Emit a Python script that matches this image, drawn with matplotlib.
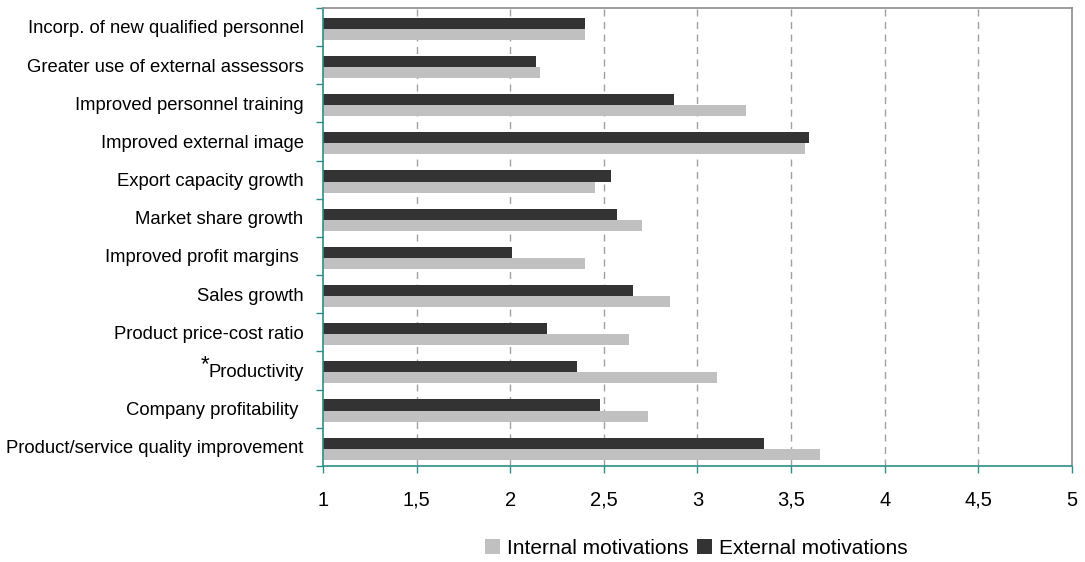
import matplotlib
matplotlib.use("Agg")
import matplotlib.pyplot as plt
from matplotlib.patches import Patch
from matplotlib.transforms import offset_copy
import numpy as np

plt.rcParams['font.family'] = ['Liberation Sans', 'DejaVu Sans']

categories = [
    "Incorp. of new qualified personnel",
    "Greater use of external assessors",
    "Improved personnel training",
    "Improved external image",
    "Export capacity growth",
    "Market share growth",
    "Improved profit margins ",
    "Sales growth",
    "Product price-cost ratio",
    "Productivity",
    "Company profitability ",
    "Product/service quality improvement",
]
external = [2.40, 2.14, 2.875, 3.595, 2.54, 2.57, 2.01, 2.655, 2.195, 2.355, 2.48, 3.355]
internal = [2.40, 2.16, 3.26, 3.575, 2.45, 2.705, 2.40, 2.855, 2.635, 3.105, 2.735, 3.655]
xticks = [1, 1.5, 2, 2.5, 3, 3.5, 4, 4.5, 5]
xtick_labels = ["1", "1,5", "2", "2,5", "3", "3,5", "4", "4,5", "5"]

dark = "#333333"
light = "#C0C0C0"
teal = "#2E8E88"
gray = "#8C8C8C"

fig = plt.figure(figsize=(10.85, 5.62), dpi=100)
ax = fig.add_axes([0.2977, 0.171, 0.6903, 0.815])

n = len(categories)
y = np.arange(n)
h = 0.29
shift = 0.05
ax.barh(y + shift - h / 2, external, height=h, left=0, color=dark, zorder=2)
ax.barh(y + shift + h / 2, internal, height=h, left=0, color=light, zorder=2)

ax.set_xlim(1, 5)
ax.set_ylim(n - 0.5, -0.5)

ax.set_xticks(xticks)
ax.set_xticklabels(xtick_labels, fontsize=14.5)
ax.tick_params(axis='x', direction='out', length=5, color=teal, width=1, pad=13)

# category labels sit at the slot centres, ticks at slot boundaries
ax.set_yticks(y)
ax.set_yticklabels(categories, fontsize=13.3)
ax.tick_params(axis='y', length=0, pad=14)
ax.set_yticks(np.arange(n + 1) - 0.5, minor=True)
ax.tick_params(axis='y', which='minor', direction='out', length=5, color=teal, width=1)

for xv in xticks[1:-1]:
    ax.axvline(xv, color="#A0A0A0", lw=1, linestyle=(0, (5, 4)), zorder=1)

ax.spines['left'].set_color(teal)
ax.spines['bottom'].set_color(teal)
ax.spines['top'].set_color(gray)
ax.spines['right'].set_color(gray)
for s in ax.spines.values():
    s.set_linewidth(1.2)

# asterisk marker just before the productivity label
fig.canvas.draw()
k = categories.index("Productivity")
lab = ax.get_yticklabels()[k]
bb = lab.get_window_extent()
_, yc = ax.transData.transform((1, k))
fx, fy = fig.transFigure.inverted().transform((bb.x0, yc))
star_tr = offset_copy(fig.transFigure, fig=fig, x=1, y=0, units='dots')
fig.text(fx, fy, "*", fontsize=16, ha='right', va='baseline', transform=star_tr)

handles = [Patch(facecolor=light, edgecolor='none', label="Internal motivations"),
           Patch(facecolor=dark, edgecolor='none', label="External motivations")]
fig.legend(handles=handles, loc='center', bbox_to_anchor=(0.642, 0.024), ncol=2,
           frameon=False, fontsize=15, handlelength=0.7, handleheight=0.7,
           handletextpad=0.35, columnspacing=0.4)

fig.savefig("out.png", dpi=100)
